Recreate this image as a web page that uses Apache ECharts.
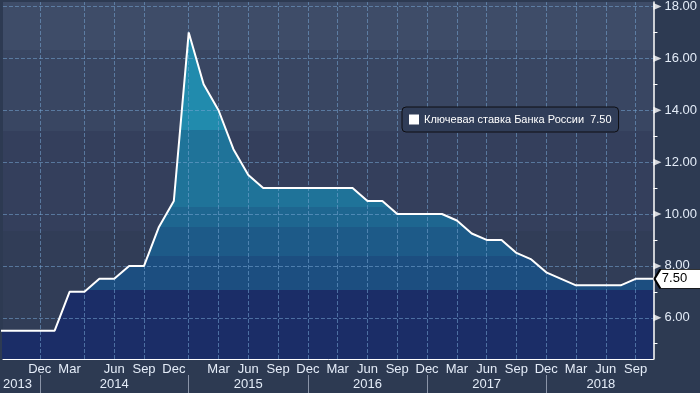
<!DOCTYPE html>
<html>
<head>
<meta charset="utf-8">
<script src="https://cdn.jsdelivr.net/npm/echarts@6/dist/echarts.min.js"></script>
<style>
html,body{margin:0;padding:0;background:#2d3a52;}
#chart{width:700px;height:393px;}
</style>
</head>
<body>
<div id="chart"></div>
<script>
// ---- data ----
const seriesName = 'Ключевая ставка Банка России';
const pointPos = [-0.8,1,2,3,4,5,6,7,8,9,10,11,12,13,14,15,16,17,18,19,20,21,22,23,24,25,26,27,28,29,30,31,32,33,34,35,36,37,38,39,40,41,42,43.2];
const rateValues = [5.5,5.5,5.5,5.5,7.0,7.0,7.5,7.5,8.0,8.0,9.5,10.5,17.0,15.0,14.0,12.5,11.5,11.0,11.0,11.0,11.0,11.0,11.0,11.0,10.5,10.5,10.0,10.0,10.0,10.0,9.75,9.25,9.0,9.0,8.5,8.25,7.75,7.5,7.25,7.25,7.25,7.25,7.5,7.5];
const monthTickPos = [2,4,7,9,11,14,16,18,20,22,24,26,28,30,32,34,36,38,40,42];
const monthTickLabels = ['Dec','Mar','Jun','Sep','Dec','Mar','Jun','Sep','Dec','Mar','Jun','Sep','Dec','Mar','Jun','Sep','Dec','Mar','Jun','Sep'];
const xTickPos = [0,1,3,5,6,7,9,11,12,13,15,17,18,19,21,23,24,25,27,29,30,31,33,35,36,37,39,41,42];
const gridLinePos = [2,5,7,9,12,14,16,18,20,22,24,26,28,30,32,34,36,38,40,42];
const yearLabelPos = [0.5,7,16,24,32,39.67];
const yearLabels = ['2013','2014','2015','2016','2017','2018'];
const yearBoundPos = [2,12,20,28,36];
const yLabelValues = [6,8,10,12,14,16,18];
const yMinorTicks = [5,7,9,11,13,15,17];

const xMin = -0.47, xMax = 43.2;
const yMin = 4.41, yMax = 18.17;

const rateData = pointPos.map((x, i) => [x, rateValues[i]]);
const lastVal = rateValues[rateValues.length - 1];
const lastPos = pointPos[pointPos.length - 1];

const chart = echarts.init(document.getElementById('chart'));
const G = echarts.graphic.LinearGradient;
const FONT = 'Liberation Sans, Arial, sans-serif';

function band(list) {
  const stops = [];
  for (let i = 0; i < list.length; i++) {
    const start = list[i][0];
    const end = i + 1 < list.length ? list[i + 1][0] : 1;
    stops.push({offset: start, color: list[i][1]});
    stops.push({offset: end, color: list[i][1]});
  }
  return stops;
}

const bgGrad = new G(0, 0, 0, 1, band([
  [0, '#3e4c68'], [48/359, '#394662'], [130/359, '#343f5c'], [230/359, '#313d57']
]));
const areaGrad = new G(0, 0, 0, 393, band([
  [0, '#218bad'], [130/393, '#1f7399'], [207/393, '#1e6690'], [227/393, '#1d5a88'],
  [256/393, '#1c4e80'], [290/393, '#1b2d67']
]), true);

const labelColor = '#e4ecf8';
const dashStyle = {color: 'rgba(118,165,212,0.55)', type: 'dashed', width: 1};

chart.setOption({
  backgroundColor: '#2d3a52',
  animation: false,
  textStyle: {fontFamily: FONT},
  grid: {left: 0, right: 45, top: 0, bottom: 34, show: true, borderWidth: 0, backgroundColor: bgGrad},
  legend: {
    data: [seriesName], z: 10,
    left: 402, top: 107,
    icon: 'rect', itemWidth: 10, itemHeight: 10, itemGap: 6,
    padding: [7, 7, 7, 7],
    borderColor: '#0e0e12', borderWidth: 1, borderRadius: 4,
    backgroundColor: '#303d58',
    textStyle: {color: '#ffffff', fontSize: 11, fontFamily: FONT},
    formatter: name => name + '  ' + lastVal.toFixed(2)
  },
  xAxis: [
    {
      type: 'value', min: xMin, max: xMax, position: 'bottom',
      axisLine: {onZero: false, lineStyle: {color: '#ffffff', width: 1}},
      axisTick: {show: true, inside: true, length: 4, customValues: xTickPos, lineStyle: {color: '#ffffff'}},
      axisLabel: {customValues: monthTickPos, margin: 4, color: labelColor, fontSize: 13, fontFamily: FONT,
        formatter: v => monthTickLabels[monthTickPos.indexOf(v)] || ''},
      splitLine: {show: false}
    },
    {
      type: 'value', min: xMin, max: xMax, position: 'bottom', offset: 16,
      axisLine: {show: false, onZero: false},
      axisTick: {show: true, inside: false, length: 18, customValues: yearBoundPos, lineStyle: {color: '#8a94a8'}},
      axisLabel: {customValues: yearLabelPos, margin: 3, color: labelColor, fontSize: 13, fontFamily: FONT,
        formatter: v => yearLabels[yearLabelPos.indexOf(v)] || ''},
      splitLine: {show: false}
    }
  ],
  yAxis: [
    {
      type: 'value', min: yMin, max: yMax, position: 'right', z: 3,
      axisLine: {show: true, onZero: false, lineStyle: {color: '#ffffff', width: 1.5}},
      axisTick: {show: false, customValues: yLabelValues},
      axisLabel: {customValues: yLabelValues, margin: 11, color: labelColor, fontSize: 13, fontFamily: FONT,
        formatter: v => v.toFixed(2)},
      splitLine: {show: true, lineStyle: dashStyle}
    },
    {
      type: 'value', min: yMin, max: yMax, position: 'right',
      axisLine: {show: false, onZero: false},
      axisTick: {show: true, length: 4, customValues: yMinorTicks, lineStyle: {color: '#ffffff'}},
      axisLabel: {show: false},
      splitLine: {show: false}
    }
  ],
  series: [
    {
      name: seriesName + ' area', type: 'line', data: rateData, z: 1, clip: true,
      symbol: 'none', lineStyle: {width: 0}, silent: true,
      areaStyle: {origin: 'start', color: areaGrad, opacity: 1},
      markLine: {
        silent: true, symbol: ['none', 'none'], animation: false, z: 3,
        label: {show: false},
        lineStyle: dashStyle,
        data: gridLinePos.map(x => ({xAxis: x}))
      }
    },
    {
      name: seriesName, type: 'line', data: rateData, z: 5, clip: true,
      symbol: 'none', color: '#ffffff',
      lineStyle: {color: '#ffffff', width: 2},
      markPoint: {
        symbol: 'path://M0,10 L6,0 L50,0 L50,20 L6,20 Z',
        symbolSize: [48, 19], symbolOffset: [25, 0],
        itemStyle: {color: '#ffffff', borderColor: '#000000', borderWidth: 1.5},
        label: {show: true, color: '#000000', fontSize: 13, fontFamily: FONT, offset: [-4, 0],
          formatter: p => p.value},
        data: [{coord: [lastPos, lastVal], value: lastVal.toFixed(2)}]
      }
    },
    {
      name: 'ticks', type: 'scatter', clip: false, silent: true, z: 6,
      data: yLabelValues.map(v => [xMax, v]),
      symbol: 'path://M0,0 L8,4 L0,8 Z', symbolSize: [8, 7], symbolOffset: [4, 0],
      itemStyle: {color: '#ffffff'}
    }
  ]
});
</script>
</body>
</html>
